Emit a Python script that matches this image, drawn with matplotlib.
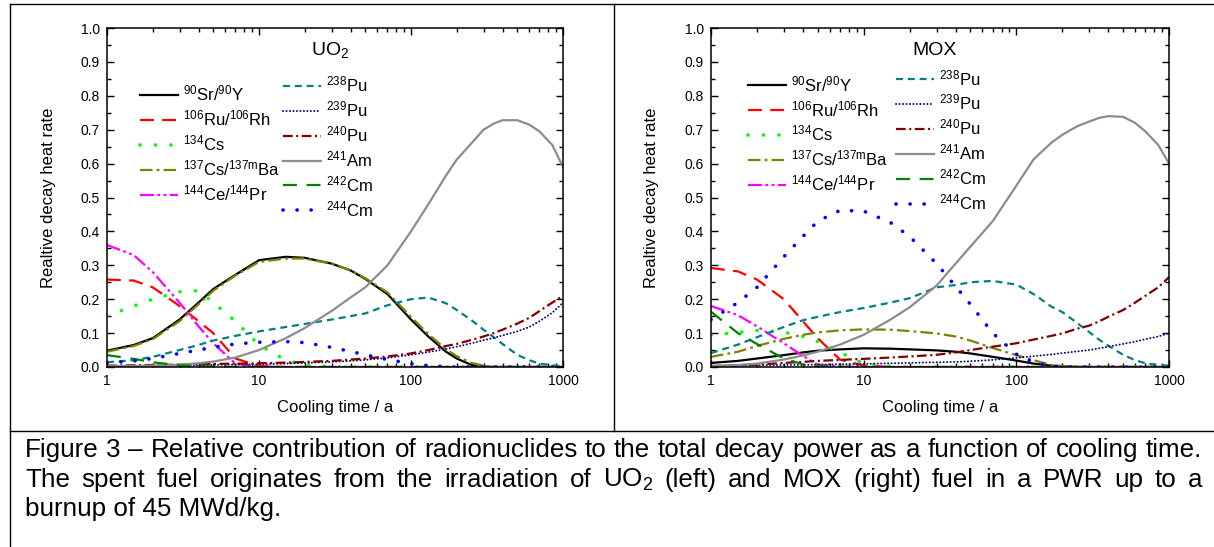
import numpy as np
import matplotlib.pyplot as plt
from matplotlib.lines import Line2D
from matplotlib.ticker import MultipleLocator, NullFormatter, LogLocator

plt.rcParams['font.family'] = ['Liberation Sans', 'DejaVu Sans']
plt.rcParams['mathtext.fontset'] = 'custom'
plt.rcParams['mathtext.rm'] = 'Liberation Sans'
plt.rcParams['mathtext.it'] = 'Liberation Sans:italic'
plt.rcParams['mathtext.bf'] = 'Liberation Sans:bold'
plt.rcParams['lines.scale_dashes'] = False

# cooling time grid (years), shared by all series
t = [1, 1.5, 2, 3, 4, 5, 7, 10, 15, 20, 30, 40, 50, 70, 100, 130, 170, 200, 250, 300, 350, 400, 500, 600, 700, 850, 1000]

# --- UO2 fuel, relative decay heat ---
uo2_sr90 = [0.048, 0.065, 0.085, 0.14, 0.19, 0.23, 0.272, 0.315, 0.325, 0.322, 0.305, 0.285, 0.26, 0.215, 0.14, 0.09, 0.045, 0.025, 0.006, 0.001, 0, 0, 0, 0, 0, 0, 0]
uo2_ru106 = [0.258, 0.255, 0.235, 0.18, 0.135, 0.10, 0.025, 0.003, 0, 0, 0, 0, 0, 0, 0, 0, 0, 0, 0, 0, 0, 0, 0, 0, 0, 0, 0]
uo2_cs134 = [0.15, 0.18, 0.20, 0.222, 0.225, 0.19, 0.135, 0.065, 0.02, 0.006, 0.001, 0, 0, 0, 0, 0, 0, 0, 0, 0, 0, 0, 0, 0, 0, 0, 0]
uo2_cs137 = [0.045, 0.062, 0.082, 0.135, 0.185, 0.225, 0.27, 0.31, 0.32, 0.32, 0.305, 0.285, 0.262, 0.22, 0.148, 0.097, 0.052, 0.032, 0.012, 0.004, 0, 0, 0, 0, 0, 0, 0]
uo2_ce144 = [0.36, 0.33, 0.28, 0.19, 0.12, 0.07, 0.01, 0.001, 0, 0, 0, 0, 0, 0, 0, 0, 0, 0, 0, 0, 0, 0, 0, 0, 0, 0, 0]
uo2_pu238 = [0.014, 0.02, 0.03, 0.05, 0.065, 0.078, 0.092, 0.105, 0.118, 0.127, 0.14, 0.15, 0.158, 0.182, 0.2, 0.205, 0.188, 0.168, 0.138, 0.11, 0.088, 0.068, 0.036, 0.02, 0.01, 0.005, 0.002]
uo2_pu239 = [0.002, 0.002, 0.003, 0.004, 0.005, 0.006, 0.007, 0.008, 0.01, 0.012, 0.015, 0.018, 0.021, 0.027, 0.036, 0.044, 0.053, 0.06, 0.07, 0.079, 0.086, 0.093, 0.105, 0.118, 0.135, 0.16, 0.19]
uo2_pu240 = [0.004, 0.005, 0.006, 0.007, 0.008, 0.009, 0.01, 0.011, 0.013, 0.015, 0.018, 0.022, 0.025, 0.031, 0.04, 0.05, 0.062, 0.068, 0.08, 0.09, 0.10, 0.11, 0.128, 0.145, 0.165, 0.19, 0.21]
uo2_am241 = [0.002, 0.003, 0.004, 0.007, 0.011, 0.016, 0.028, 0.05, 0.085, 0.115, 0.165, 0.205, 0.235, 0.30, 0.40, 0.48, 0.565, 0.612, 0.66, 0.70, 0.718, 0.728, 0.728, 0.715, 0.695, 0.655, 0.59]
uo2_cm242 = [0.035, 0.024, 0.014, 0.005, 0.002, 0.001, 0, 0, 0, 0, 0, 0, 0, 0, 0, 0, 0, 0, 0, 0, 0, 0, 0, 0, 0, 0, 0]
uo2_cm244 = [0.012, 0.018, 0.025, 0.04, 0.05, 0.058, 0.068, 0.073, 0.075, 0.072, 0.058, 0.046, 0.036, 0.022, 0.01, 0.004, 0.001, 0, 0, 0, 0, 0, 0, 0, 0, 0, 0]

# --- MOX fuel, relative decay heat ---
mox_sr90 = [0.012, 0.018, 0.025, 0.035, 0.043, 0.048, 0.052, 0.055, 0.054, 0.052, 0.049, 0.045, 0.04, 0.03, 0.019, 0.01, 0.004, 0.002, 0, 0, 0, 0, 0, 0, 0, 0, 0]
mox_ru106 = [0.292, 0.282, 0.258, 0.20, 0.135, 0.085, 0.022, 0.004, 0, 0, 0, 0, 0, 0, 0, 0, 0, 0, 0, 0, 0, 0, 0, 0, 0, 0, 0]
mox_cs134 = [0.094, 0.102, 0.108, 0.103, 0.09, 0.075, 0.043, 0.01, 0.002, 0, 0, 0, 0, 0, 0, 0, 0, 0, 0, 0, 0, 0, 0, 0, 0, 0, 0]
mox_cs137 = [0.03, 0.045, 0.062, 0.083, 0.095, 0.102, 0.108, 0.111, 0.11, 0.106, 0.099, 0.09, 0.078, 0.056, 0.035, 0.02, 0.006, 0.003, 0.001, 0, 0, 0, 0, 0, 0, 0, 0]
mox_ce144 = [0.18, 0.153, 0.12, 0.07, 0.033, 0.007, 0.001, 0, 0, 0, 0, 0, 0, 0, 0, 0, 0, 0, 0, 0, 0, 0, 0, 0, 0, 0, 0]
mox_pu238 = [0.041, 0.066, 0.088, 0.118, 0.138, 0.148, 0.162, 0.174, 0.19, 0.203, 0.235, 0.242, 0.25, 0.254, 0.243, 0.215, 0.178, 0.162, 0.13, 0.103, 0.08, 0.063, 0.036, 0.02, 0.011, 0.006, 0.004]
mox_pu239 = [0.003, 0.004, 0.005, 0.006, 0.006, 0.007, 0.008, 0.009, 0.011, 0.012, 0.014, 0.015, 0.017, 0.021, 0.027, 0.032, 0.037, 0.041, 0.046, 0.05, 0.055, 0.06, 0.068, 0.075, 0.082, 0.09, 0.10]
mox_pu240 = [0.003, 0.005, 0.007, 0.012, 0.015, 0.018, 0.021, 0.024, 0.028, 0.031, 0.036, 0.043, 0.05, 0.06, 0.07, 0.081, 0.092, 0.099, 0.113, 0.122, 0.135, 0.148, 0.168, 0.19, 0.21, 0.235, 0.265]
mox_am241 = [0.003, 0.006, 0.01, 0.022, 0.034, 0.045, 0.066, 0.095, 0.14, 0.176, 0.24, 0.305, 0.355, 0.43, 0.535, 0.613, 0.662, 0.685, 0.71, 0.724, 0.735, 0.74, 0.738, 0.72, 0.695, 0.655, 0.60]
mox_cm242 = [0.163, 0.10, 0.068, 0.025, 0.008, 0.003, 0.001, 0, 0, 0, 0, 0, 0, 0, 0, 0, 0, 0, 0, 0, 0, 0, 0, 0, 0, 0, 0]
mox_cm244 = [0.14, 0.19, 0.235, 0.325, 0.385, 0.43, 0.462, 0.46, 0.426, 0.385, 0.305, 0.238, 0.185, 0.10, 0.038, 0.013, 0.003, 0.001, 0, 0, 0, 0, 0, 0, 0, 0, 0]

labels = [r'$^{90}$Sr/$^{90}$Y', r'$^{106}$Ru/$^{106}$Rh', r'$^{134}$Cs',
          r'$^{137}$Cs/$^{137\mathrm{m}}$Ba', r'$^{144}$Ce/$^{144}$Pr',
          r'$^{238}$Pu', r'$^{239}$Pu', r'$^{240}$Pu', r'$^{241}$Am',
          r'$^{242}$Cm', r'$^{244}$Cm']

uo2_series = [uo2_sr90, uo2_ru106, uo2_cs134, uo2_cs137, uo2_ce144, uo2_pu238,
              uo2_pu239, uo2_pu240, uo2_am241, uo2_cm242, uo2_cm244]
mox_series = [mox_sr90, mox_ru106, mox_cs134, mox_cs137, mox_ce144, mox_pu238,
              mox_pu239, mox_pu240, mox_am241, mox_cm242, mox_cm244]

styles = [
    dict(color='black', ls='-', lw=1.6),
    dict(color='#FF0000', ls=(0, (10, 6)), lw=1.6),
    dict(color='#00FF00', ls=(0, (0.1, 11)), lw=2.6, dash_capstyle='round'),
    dict(color='#808000', ls=(0, (9, 3, 2, 3)), lw=1.6),
    dict(color='#FF00FF', ls=(0, (10, 2.5, 2, 2.5, 2, 2.5)), lw=1.6),
    dict(color='#008080', ls=(0, (5, 3.5)), lw=1.6),
    dict(color='#000080', ls=(0, (0.1, 2.4)), lw=1.4, dash_capstyle='round'),
    dict(color='#800000', ls=(0, (7, 2.5, 1.5, 2.5)), lw=1.6),
    dict(color='#8C8C8C', ls='-', lw=1.6),
    dict(color='#008000', ls=(0, (10, 7)), lw=1.6),
    dict(color='#0000FF', ls=(0, (0.1, 10)), lw=2.6, dash_capstyle='round'),
]

y_ticks = [0.0, 0.1, 0.2, 0.3, 0.4, 0.5, 0.6, 0.7, 0.8, 0.9, 1.0]
y_tick_labels = ['0.0', '0.1', '0.2', '0.3', '0.4', '0.5', '0.6', '0.7', '0.8', '0.9', '1.0']
x_ticks = [1, 10, 100, 1000]
x_tick_labels = ['1', '10', '100', '1000']

W, H = 1214, 547
fig = plt.figure(figsize=(W / 100, H / 100), dpi=100)


def make_panel(rect, series, title, title_x, ylab_x, leg1, leg2):
    ax = fig.add_axes(rect)
    lines = []
    for vals, lab, st in zip(series, labels, styles):
        ln, = ax.plot(t, vals, label=lab, **st)
        lines.append(ln)
    ax.set_xscale('log')
    ax.set_xlim(1, 1000)
    ax.set_ylim(0, 1.0)
    ax.set_xticks(x_ticks)
    ax.set_xticklabels(x_tick_labels)
    ax.xaxis.set_minor_locator(LogLocator(base=10, subs=np.arange(2, 10)))
    ax.xaxis.set_minor_formatter(NullFormatter())
    ax.set_yticks(y_ticks)
    ax.set_yticklabels(y_tick_labels)
    ax.yaxis.set_minor_locator(MultipleLocator(0.05))
    ax.tick_params(which='both', direction='in', top=True, right=True,
                   labelsize=10, width=1)
    ax.tick_params(which='major', length=5, pad=5)
    ax.tick_params(which='minor', length=2.8)
    for s in ax.spines.values():
        s.set_linewidth(1.1)
    ax.set_xlabel('Cooling time / a', fontsize=12)
    ax.set_ylabel('Realtive decay heat rate', fontsize=12)
    ax.xaxis.set_label_coords(0.5, -0.097)
    ax.yaxis.set_label_coords(ylab_x, 0.5)
    ax.text(title_x, 0.92, title, transform=ax.transAxes, fontsize=14,
            ha='left', va='baseline')
    common = dict(loc='upper left', frameon=False, fontsize=12, handlelength=2.3,
                  handletextpad=0.3, labelspacing=0.3, borderpad=0, borderaxespad=0)
    l1 = ax.legend(handles=lines[:5], bbox_to_anchor=leg1, **common)
    ax.add_artist(l1)
    ax.legend(handles=lines[5:], bbox_to_anchor=leg2, **common)
    return ax


make_panel([107 / W, 1 - 367 / H, 456 / W, 339 / H], uo2_series, r'UO$_2$',
           0.447, -0.112, (0.072, 0.835), (0.386, 0.862))
make_panel([711 / W, 1 - 367 / H, 458 / W, 339 / H], mox_series, 'MOX',
           0.439, -0.1135, (0.081, 0.864), (0.404, 0.882))

# table-like frame around the figure panels
frame = dict(transform=fig.transFigure, color='black', lw=1.0)
fig.add_artist(Line2D([10 / W, 1], [1 - 4 / H, 1 - 4 / H], **frame))
fig.add_artist(Line2D([10 / W, 10 / W], [0, 1 - 4 / H], **frame))
fig.add_artist(Line2D([10 / W, 1], [1 - 431 / H, 1 - 431 / H], **frame))
fig.add_artist(Line2D([614 / W, 614 / W], [1 - 431 / H, 1 - 4 / H], **frame))

# caption, first two lines justified
cap1 = 'Figure 3 – Relative contribution of radionuclides to the total decay power as a function of cooling time.'
cap2 = 'The spent fuel originates from the irradiation of UO$_2$ (left) and MOX (right) fuel in a PWR up to a'
cap3 = 'burnup of 45 MWd/kg.'
cap_size = 18.7

renderer = fig.canvas.get_renderer()


def justify(text, x0, x1, base):
    words = text.split(' ')
    arts = [fig.text(0, 1 - base / H, w, fontsize=cap_size, va='baseline') for w in words]
    widths = [a.get_window_extent(renderer).width for a in arts]
    gap = (x1 - x0 - sum(widths)) / (len(words) - 1)
    x = x0
    for a, w in zip(arts, widths):
        a.set_x(x / W)
        x += w + gap


justify(cap1, 25, 1202, 457)
justify(cap2, 25, 1202, 487)
fig.text(25 / W, 1 - 516 / H, cap3, fontsize=cap_size, va='baseline')

fig.savefig('out.png', dpi=100)
